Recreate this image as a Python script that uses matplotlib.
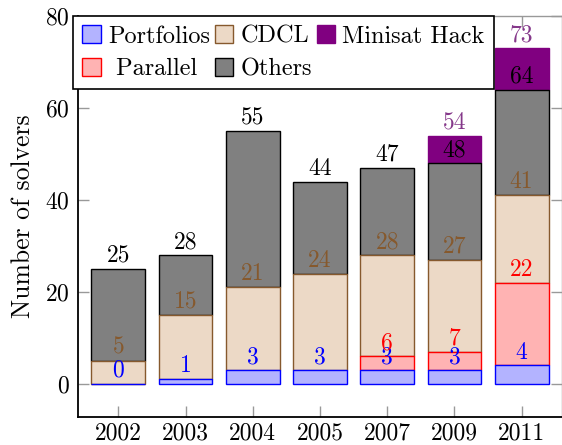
import numpy as np
import matplotlib.pyplot as plt

plt.rcParams['font.family'] = ['cmr10', 'DejaVu Serif']
plt.rcParams['axes.formatter.use_mathtext'] = True
plt.rcParams['font.size'] = 17

years = ['2002', '2003', '2004', '2005', '2007', '2009', '2011']
portfolios = [0, 1, 3, 3, 3, 3, 4]
parallel = [None, None, None, None, 3, 4, 18]
cdcl = [5, 14, 18, 21, 22, 20, 19]
others = [20, 13, 34, 20, 19, 21, 23]
minisat_hack = [None, None, None, None, None, 6, 9]

# name, values, fill, edge, label colour (stacking order)
series = [
    ('Portfolios', portfolios, '#b3b3ff', '#0000ff', '#0000ff'),
    (' Parallel', parallel, '#ffb3b3', '#ff0000', '#ff0000'),
    ('CDCL', cdcl, '#ecd9c6', '#86592d', '#86592d'),
    ('Others', others, '#808080', '#000000', '#000000'),
    ('Minisat Hack', minisat_hack, '#800080', '#800080', '#85388a'),
]

fig = plt.figure(figsize=(5.62, 4.45), dpi=100)
ax = fig.add_axes([78 / 562, 1 - 417 / 445, 484 / 562, 401 / 445])

x = np.arange(len(years))
bottom = np.zeros(len(years))
handles = {}
labels_to_draw = []
for k, (name, vals, fill, edge, lcol) in enumerate(series):
    v = np.array([0 if a is None else a for a in vals], dtype=float)
    mask = np.array([a is not None for a in vals])
    # lower segments drawn last so their edges stay visible
    bars = ax.bar(x[mask], v[mask], width=0.8, bottom=bottom[mask],
                  color=fill, edgecolor=edge, linewidth=1.0, zorder=3 - 0.1 * k)
    handles[name] = bars
    top = bottom + v
    for i in x[mask]:
        labels_to_draw.append((i, top[i], lcol))
    bottom = top

# value labels go on top of all bars
for i, y, col in labels_to_draw:
    ax.annotate(f'{int(y)}', (i, y), xytext=(0, 5), textcoords='offset points',
                ha='center', va='baseline', color=col, zorder=11)

ax.set_xlim(-0.6, 6.6)
ax.set_ylim(-7.2, 80)
ax.set_xticks(x)
ax.set_xticklabels(years)
ax.set_yticks([0, 20, 40, 60, 80])
ax.set_ylabel('Number of solvers', labelpad=7, fontsize=18.5)

ax.tick_params(direction='in', length=8, width=1, color='#999999',
               top=True, right=True)
ax.tick_params(axis='x', pad=4)
ax.tick_params(axis='y', pad=6)
for s in ['left', 'bottom']:
    ax.spines[s].set_color('black')
    ax.spines[s].set_linewidth(1.3)
for s in ['top', 'right']:
    ax.spines[s].set_color('#999999')
    ax.spines[s].set_linewidth(1.0)

order = ['Portfolios', ' Parallel', 'CDCL', 'Others', 'Minisat Hack']
leg = ax.legend([handles[n] for n in order], order, ncol=3, loc='upper left',
                bbox_to_anchor=(-0.01, 1.0), borderaxespad=0, fancybox=False,
                framealpha=1, edgecolor='black', handlelength=0.75,
                handleheight=0.75, handletextpad=0.3, columnspacing=0.2,
                labelspacing=0.42, borderpad=0.38, fontsize=17.5)
leg.get_frame().set_linewidth(1.2)
leg.set_zorder(10)

fig.savefig('out.png', dpi=100)
